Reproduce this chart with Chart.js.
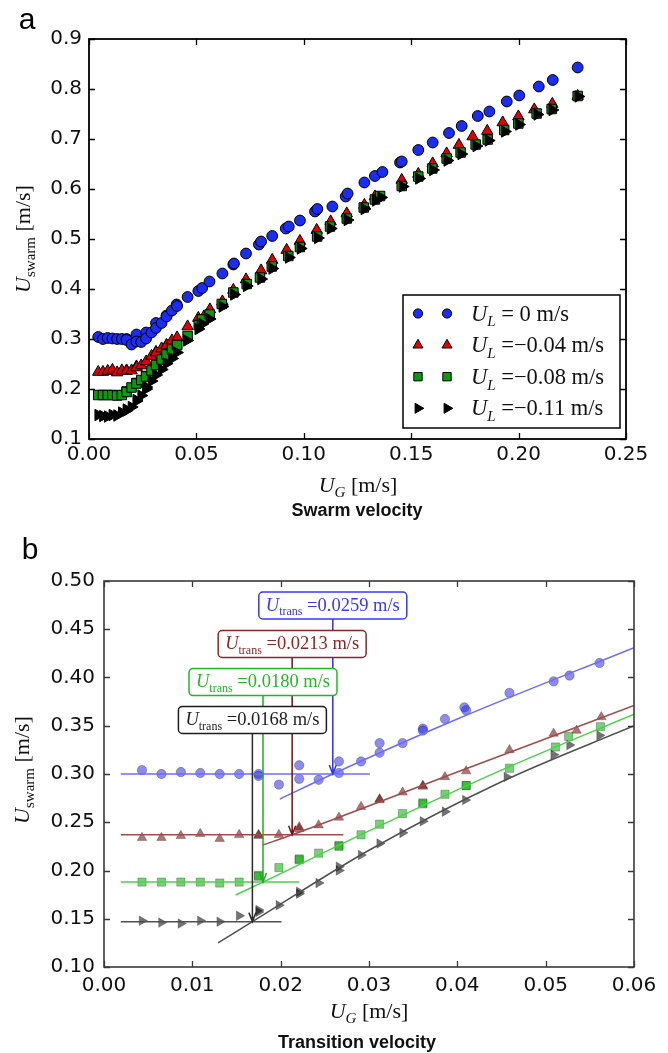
<!DOCTYPE html>
<html>
<head>
<meta charset="utf-8">
<script src="https://cdn.jsdelivr.net/npm/chart.js@4.4.0/dist/chart.umd.min.js"></script>
<style>
  body { margin: 0; background: #fff; }
  #page { position: relative; width: 668px; height: 1053px; overflow: hidden; background: #fff; }
  canvas { position: absolute; left: 0; }
  #swarmChart { top: 0; }
  #transChart { top: 525px; filter: blur(0.35px); }
  .lbl { position: absolute; white-space: nowrap; transform: translate(-50%, -50%); line-height: 1; }
  .rot { transform: translate(-50%, -50%) rotate(-90deg); }
  .panel { font: 30px "Liberation Sans", Arial, sans-serif; }
  .math { font: 22px "Liberation Serif", serif; color: #111; }
  .math sub { font-size: 15px; vertical-align: -5px; line-height: 0; }
  .caption { font: bold 18px "Liberation Sans", Arial, sans-serif; color: #111; }
</style>
</head>
<body>
<div id="page">
  <canvas id="swarmChart" width="668" height="525"></canvas>
  <canvas id="transChart" width="668" height="528"></canvas>

  <div class="lbl panel" style="left:27px;top:19px">a</div>
  <div class="lbl math rot" style="left:23px;top:239px"><i>U</i><sub>swarm</sub> [m/s]</div>
  <div class="lbl math" style="left:358px;top:485px"><i>U</i><sub><i>G</i></sub> [m/s]</div>
  <div class="lbl caption" style="left:357px;top:510px">Swarm velocity</div>

  <div class="lbl panel" style="left:30px;top:549px">b</div>
  <div class="lbl math rot" style="left:22px;top:770px"><i>U</i><sub>swarm</sub> [m/s]</div>
  <div class="lbl math" style="left:369px;top:1011px"><i>U</i><sub><i>G</i></sub> [m/s]</div>
  <div class="lbl caption" style="left:357px;top:1042px">Transition velocity</div>
</div>

<script>
// gas superficial velocity U_G and swarm velocity U_swarm, one pair of arrays per liquid velocity
const ugNoFlow = [0.0043, 0.0065, 0.0087, 0.0109, 0.0131, 0.0153, 0.0175, 0.0175, 0.0198, 0.0221,
  0.0221, 0.0243, 0.0266, 0.0266, 0.0291, 0.0312, 0.0312, 0.0338, 0.0361, 0.0361,
  0.0386, 0.0408, 0.0410, 0.0459, 0.0509, 0.0527, 0.0561, 0.0621, 0.0672, 0.0675,
  0.0731, 0.0791, 0.0801, 0.0853, 0.0916, 0.0930, 0.0982, 0.1052, 0.1063, 0.1133,
  0.1195, 0.1204, 0.1282, 0.1331, 0.1366, 0.1448, 0.1456, 0.1533, 0.1600, 0.1676,
  0.1735, 0.1810, 0.1864, 0.1945, 0.2003, 0.2094, 0.2159, 0.2275];
const swarmNoFlow = [0.304, 0.300, 0.302, 0.301, 0.300, 0.300, 0.300, 0.298, 0.289, 0.309,
  0.295, 0.294, 0.313, 0.301, 0.313, 0.332, 0.322, 0.332, 0.347, 0.345,
  0.357, 0.369, 0.366, 0.384, 0.396, 0.402, 0.415, 0.431, 0.449, 0.451,
  0.471, 0.489, 0.495, 0.506, 0.521, 0.525, 0.537, 0.555, 0.560, 0.565,
  0.585, 0.591, 0.613, 0.626, 0.634, 0.653, 0.655, 0.678, 0.693, 0.712,
  0.726, 0.746, 0.755, 0.775, 0.787, 0.805, 0.818, 0.843];

const ugFlow004 = [0.0043, 0.0065, 0.0087, 0.0109, 0.0131, 0.0153, 0.0175, 0.0175, 0.0198, 0.0221,
  0.0221, 0.0243, 0.0266, 0.0291, 0.0312, 0.0312, 0.0338, 0.0361, 0.0361, 0.0386,
  0.0410, 0.0459, 0.0509, 0.0535, 0.0563, 0.0621, 0.0672, 0.0731, 0.0801, 0.0853,
  0.0920, 0.0982, 0.1060, 0.1125, 0.1200, 0.1282, 0.1331, 0.1456, 0.1533, 0.1600,
  0.1665, 0.1722, 0.1786, 0.1854, 0.1926, 0.1999, 0.2073, 0.2157, 0.2275];
const swarmFlow004 = [0.234, 0.234, 0.236, 0.238, 0.233, 0.237, 0.237, 0.236, 0.237, 0.245,
  0.243, 0.247, 0.255, 0.266, 0.274, 0.273, 0.281, 0.288, 0.287, 0.297,
  0.303, 0.325, 0.342, 0.345, 0.359, 0.375, 0.398, 0.419, 0.437, 0.458,
  0.478, 0.496, 0.518, 0.535, 0.551, 0.568, 0.585, 0.618, 0.630, 0.651,
  0.671, 0.688, 0.705, 0.716, 0.733, 0.745, 0.759, 0.770, 0.786];

const ugFlow008 = [0.0043, 0.0065, 0.0087, 0.0109, 0.0131, 0.0153, 0.0175, 0.0175, 0.0198, 0.0221,
  0.0221, 0.0243, 0.0266, 0.0266, 0.0291, 0.0312, 0.0338, 0.0361, 0.0361, 0.0386,
  0.0410, 0.0410, 0.0459, 0.0511, 0.0526, 0.0562, 0.0618, 0.0672, 0.0734, 0.0796,
  0.0851, 0.0928, 0.0982, 0.1062, 0.1122, 0.1200, 0.1279, 0.1331, 0.1355, 0.1456,
  0.1533, 0.1598, 0.1665, 0.1730, 0.1800, 0.1856, 0.1933, 0.1999, 0.2084, 0.2154, 0.2275];
const swarmFlow008 = [0.188, 0.188, 0.188, 0.188, 0.187, 0.188, 0.195, 0.194, 0.203, 0.212,
  0.211, 0.218, 0.226, 0.225, 0.237, 0.248, 0.259, 0.270, 0.269, 0.279,
  0.288, 0.288, 0.306, 0.328, 0.339, 0.349, 0.370, 0.393, 0.410, 0.423,
  0.445, 0.466, 0.484, 0.505, 0.525, 0.541, 0.563, 0.579, 0.586, 0.606,
  0.625, 0.641, 0.661, 0.673, 0.689, 0.699, 0.718, 0.731, 0.751, 0.760, 0.786];

const ugFlow011 = [0.0043, 0.0065, 0.0087, 0.0109, 0.0131, 0.0153, 0.0175, 0.0175, 0.0198, 0.0221,
  0.0221, 0.0243, 0.0266, 0.0266, 0.0291, 0.0312, 0.0338, 0.0361, 0.0386, 0.0409,
  0.0456, 0.0509, 0.0527, 0.0561, 0.0621, 0.0675, 0.0734, 0.0801, 0.0853, 0.0930,
  0.0985, 0.1065, 0.1125, 0.1203, 0.1282, 0.1335, 0.1360, 0.1460, 0.1536, 0.1601,
  0.1668, 0.1733, 0.1803, 0.1860, 0.1936, 0.2002, 0.2087, 0.2157, 0.2278];
const swarmFlow011 = [0.148, 0.146, 0.145, 0.148, 0.147, 0.153, 0.159, 0.157, 0.164, 0.176,
  0.178, 0.187, 0.204, 0.200, 0.216, 0.228, 0.239, 0.251, 0.261, 0.273,
  0.297, 0.320, 0.330, 0.340, 0.365, 0.389, 0.406, 0.420, 0.441, 0.463,
  0.481, 0.502, 0.521, 0.538, 0.560, 0.577, 0.583, 0.605, 0.621, 0.638,
  0.657, 0.670, 0.686, 0.697, 0.715, 0.729, 0.749, 0.758, 0.785];

const liquidVelocity = ['0', '\u22120.04', '\u22120.08', '\u22120.11'];

// transition analysis (panel b): plateau level, transition velocity and the fitted rising branch
const transVelocity = [0.0259, 0.0213, 0.0180, 0.0168];
const plateauLevel = [0.300, 0.237, 0.188, 0.147];
const plateauStart = 0.0019;
const plateauEnd = [0.0301, 0.0271, 0.0221, 0.0201];

const fitUgNoFlow = [0.0199, 0.0259, 0.040, 0.060];
const fitSwarmNoFlow = [0.274, 0.300, 0.357, 0.431];
const fitUgFlow004 = [0.0180, 0.0213, 0.040, 0.060];
const fitSwarmFlow004 = [0.2264, 0.237, 0.302, 0.371];
const fitUgFlow008 = [0.0149, 0.0180, 0.030, 0.045, 0.060];
const fitSwarmFlow008 = [0.1746, 0.188, 0.241, 0.304, 0.362];
const fitUgFlow011 = [0.0129, 0.0168, 0.030, 0.045, 0.060];
const fitSwarmFlow011 = [0.125, 0.147, 0.221, 0.292, 0.350];

const series = [
  { ug: ugNoFlow, us: swarmNoFlow, fitUg: fitUgNoFlow, fitUs: fitSwarmNoFlow },
  { ug: ugFlow004, us: swarmFlow004, fitUg: fitUgFlow004, fitUs: fitSwarmFlow004 },
  { ug: ugFlow008, us: swarmFlow008, fitUg: fitUgFlow008, fitUs: fitSwarmFlow008 },
  { ug: ugFlow011, us: swarmFlow011, fitUg: fitUgFlow011, fitUs: fitSwarmFlow011 }
];

// marker looks
const markerShape = [
  { pointStyle: 'circle', rotation: 0 },
  { pointStyle: 'triangle', rotation: 0 },
  { pointStyle: 'rect', rotation: 0 },
  { pointStyle: 'triangle', rotation: 90 }
];
const solidFill = ['#1b2cf4', '#e40000', '#0b9a0b', '#000000'];
const sizeA = [5.4, 6.6, 6.7, 6.6];
const sizeB = [4.7, 5.5, 5.8, 5.5];
const fadedFill = ['rgba(45,45,235,0.55)', 'rgba(125,25,25,0.6)', 'rgba(0,175,0,0.55)', 'rgba(0,0,0,0.55)'];
const fitColor = ['#6b6bff', '#a04c4c', '#4cd04c', '#505050'];
const noteColor = ['#3838ff', '#8a2626', '#22b822', '#1e1e1e'];
const arrowColor = ['#3030ff', '#7a1010', '#1fae1f', '#2a2a2a'];
// vertical placement of the U_trans boxes, in U_swarm units
const noteLevel = [0.4746, 0.4347, 0.3953, 0.356];

const toPoints = (xs, ys) => xs.map((v, i) => ({ x: v, y: ys[i] }));

function drawMarker(ctx, style, rotation, x, y, r) {
  ctx.beginPath();
  if (style === 'circle') {
    ctx.arc(x, y, r, 0, Math.PI * 2);
  } else if (style === 'rect') {
    const s = r * Math.SQRT1_2;
    ctx.rect(x - s, y - s, 2 * s, 2 * s);
  } else {
    let a = rotation * Math.PI / 180;
    for (let k = 0; k < 3; k++) {
      const px = x + Math.sin(a) * r, py = y - Math.cos(a) * r;
      k === 0 ? ctx.moveTo(px, py) : ctx.lineTo(px, py);
      a += 2 * Math.PI / 3;
    }
    ctx.closePath();
  }
  ctx.fill();
  ctx.stroke();
}

// italic symbol, subscript, then upright remainder; returns the end x
function mathText(ctx, x, y, size, sub, subItalic, rest, draw) {
  ctx.font = `italic ${size}px "Liberation Serif"`;
  if (draw) ctx.fillText('U', x, y);
  x += ctx.measureText('U').width;
  const subSize = Math.round(size * 0.66);
  ctx.font = `${subItalic ? 'italic ' : ''}${subSize}px "Liberation Serif"`;
  if (draw) ctx.fillText(sub, x, y + size * 0.26);
  x += ctx.measureText(sub).width;
  ctx.font = `${size}px "Liberation Serif"`;
  if (draw) ctx.fillText(rest, x, y);
  return x + ctx.measureText(rest).width;
}

// closed frame with inward ticks on all four sides
const frameTicks = {
  id: 'frameTicks',
  afterDatasetsDraw(chart, args, opts) {
    const { ctx, chartArea: a, scales: { x, y } } = chart;
    ctx.save();
    ctx.strokeStyle = opts.color;
    ctx.lineWidth = opts.width;
    ctx.beginPath();
    x.ticks.forEach(t => {
      const px = Math.round(x.getPixelForValue(t.value)) + 0.5;
      ctx.moveTo(px, a.bottom); ctx.lineTo(px, a.bottom - opts.len);
      ctx.moveTo(px, a.top); ctx.lineTo(px, a.top + opts.len);
    });
    y.ticks.forEach(t => {
      const py = Math.round(y.getPixelForValue(t.value)) + 0.5;
      ctx.moveTo(a.left, py); ctx.lineTo(a.left + opts.len, py);
      ctx.moveTo(a.right, py); ctx.lineTo(a.right - opts.len, py);
    });
    ctx.stroke();
    ctx.lineWidth = opts.frame;
    ctx.strokeRect(a.left, a.top, a.right - a.left, a.bottom - a.top);
    ctx.restore();
  }
};

// legend with two markers per entry
const pairLegend = {
  id: 'pairLegend',
  afterDraw(chart) {
    const { ctx, chartArea: a } = chart;
    const box = { left: a.left + 314, top: a.top + 256, right: a.right - 6, bottom: a.bottom - 11 };
    ctx.save();
    ctx.fillStyle = '#fff';
    ctx.strokeStyle = '#000';
    ctx.lineWidth = 1.5;
    ctx.fillRect(box.left, box.top, box.right - box.left, box.bottom - box.top);
    ctx.strokeRect(box.left, box.top, box.right - box.left, box.bottom - box.top);
    liquidVelocity.forEach((v, i) => {
      const cy = box.top + 18.5 + i * 31.6;
      ctx.fillStyle = solidFill[i];
      ctx.strokeStyle = '#000';
      ctx.lineWidth = 1;
      const m = markerShape[i];
      drawMarker(ctx, m.pointStyle, m.rotation, box.left + 15, cy, sizeA[i] - 0.8);
      drawMarker(ctx, m.pointStyle, m.rotation, box.left + 44, cy, sizeA[i] - 0.8);
      ctx.fillStyle = '#111';
      ctx.textBaseline = 'alphabetic';
      const rest = v.startsWith('\u2212') ? ` =${v} m/s` : ` = ${v} m/s`;
      mathText(ctx, box.left + 68, cy + 7, 22.5, 'L', true, rest, true);
    });
    ctx.restore();
  }
};

// arrows from the U_trans boxes down to the plateau/fit intersection
const transNotes = {
  id: 'transNotes',
  afterDatasetsDraw(chart) {
    const { ctx, scales: { x, y } } = chart;
    ctx.save();
    transVelocity.forEach((v, i) => {
      const px = x.getPixelForValue(v);
      const top = y.getPixelForValue(noteLevel[i]);
      const tip = y.getPixelForValue(plateauLevel[i]);
      ctx.strokeStyle = arrowColor[i];
      ctx.lineWidth = 1.5;
      ctx.beginPath();
      ctx.moveTo(px, top);
      ctx.lineTo(px, tip);
      ctx.moveTo(px - 3.5, tip - 9);
      ctx.lineTo(px, tip);
      ctx.lineTo(px + 3.5, tip - 9);
      ctx.stroke();
    });
    transVelocity.forEach((v, i) => {
      const cx = x.getPixelForValue(v);
      const cy = y.getPixelForValue(noteLevel[i]);
      const rest = ` =${v.toFixed(4)} m/s`;
      const w = mathText(ctx, 0, 0, 18.5, 'trans', false, rest, false);
      const bw = w + 14, bh = 27;
      const bx = cx - bw / 2, by = cy - bh / 2;
      ctx.beginPath();
      ctx.roundRect(bx, by, bw, bh, 4);
      ctx.fillStyle = '#fff';
      ctx.fill();
      ctx.strokeStyle = noteColor[i];
      ctx.lineWidth = 1.5;
      ctx.stroke();
      ctx.fillStyle = noteColor[i];
      ctx.textBaseline = 'alphabetic';
      mathText(ctx, bx + 7, cy + 5, 18.5, 'trans', false, rest, true);
    });
    ctx.restore();
  }
};

const tickFont = { family: '"DejaVu Sans"', size: 20 };

function axes(xMin, xMax, xStep, xDigits, yMin, yMax, yStep, yDigits, yWidth, xHeight, xPad, yPad) {
  return {
    x: {
      type: 'linear', min: xMin, max: xMax,
      afterFit: s => { s.height = xHeight; },
      grid: { display: false, drawTicks: false },
      border: { display: false },
      ticks: { stepSize: xStep, padding: xPad, color: '#111', font: tickFont, maxRotation: 0, autoSkip: false,
        callback: v => v.toFixed(xDigits) }
    },
    y: {
      type: 'linear', min: yMin, max: yMax,
      afterFit: s => { s.width = yWidth; },
      grid: { display: false, drawTicks: false },
      border: { display: false },
      ticks: { stepSize: yStep, padding: yPad, color: '#111', font: tickFont, autoSkip: false,
        callback: v => v.toFixed(yDigits) }
    }
  };
}

const baseOptions = {
  responsive: false,
  animation: false,
  events: []
};

// panel a: swarm velocity over the full gas velocity range
new Chart(document.getElementById('swarmChart'), {
  type: 'scatter',
  data: {
    datasets: series.map((s, i) => ({
      data: toPoints(s.ug, s.us),
      pointStyle: markerShape[i].pointStyle,
      pointRotation: markerShape[i].rotation,
      pointRadius: sizeA[i],
      pointBackgroundColor: solidFill[i],
      pointBorderColor: '#000',
      pointBorderWidth: 1,
      order: 4 - i
    }))
  },
  options: {
    ...baseOptions,
    layout: { padding: { top: 39, right: 42, left: 0, bottom: 0 } },
    plugins: {
      legend: { display: false },
      tooltip: { enabled: false },
      frameTicks: { color: '#000', width: 1.3, frame: 1.8, len: 6 }
    },
    scales: axes(0, 0.25, 0.05, 2, 0.1, 0.9, 0.1, 1, 89, 86, 4, 7)
  },
  plugins: [frameTicks, pairLegend]
});

// panel b: low gas velocity detail with plateau and fitted branches
const zoomSets = [];
series.forEach((s, i) => {
  const keep = s.ug.map((v, k) => k).filter(k => s.ug[k] < 0.06);
  zoomSets.push({
    data: keep.map(k => ({ x: s.ug[k], y: s.us[k] })),
    pointStyle: markerShape[i].pointStyle,
    pointRotation: markerShape[i].rotation,
    pointRadius: sizeB[i],
    pointBackgroundColor: fadedFill[i],
    pointBorderColor: 'rgba(0,0,0,0.25)',
    pointBorderWidth: 1,
    order: 8 - i
  });
  zoomSets.push({
    data: [{ x: plateauStart, y: plateauLevel[i] }, { x: plateauEnd[i], y: plateauLevel[i] }],
    showLine: true, pointRadius: 0, borderColor: fitColor[i], borderWidth: 1.5, order: 1
  });
  zoomSets.push({
    data: toPoints(s.fitUg, s.fitUs),
    showLine: true, pointRadius: 0, borderColor: fitColor[i], borderWidth: 1.5,
    cubicInterpolationMode: 'monotone', order: 1
  });
});

new Chart(document.getElementById('transChart'), {
  type: 'scatter',
  data: { datasets: zoomSets },
  options: {
    ...baseOptions,
    layout: { padding: { top: 56, right: 34, left: 0, bottom: 0 } },
    plugins: {
      legend: { display: false },
      tooltip: { enabled: false },
      frameTicks: { color: '#3a3a3a', width: 1.3, frame: 1.6, len: 6 }
    },
    scales: axes(0, 0.06, 0.01, 2, 0.1, 0.5, 0.05, 2, 104, 86, 7, 9)
  },
  plugins: [frameTicks, transNotes]
});
</script>
</body>
</html>
